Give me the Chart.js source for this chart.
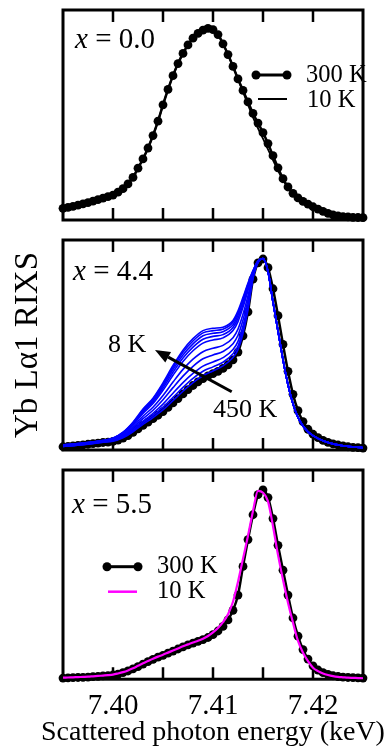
<!DOCTYPE html>
<html>
<head>
<meta charset="utf-8">
<script src="https://cdn.jsdelivr.net/npm/chart.js@4"></script>
<style>
  html, body { margin: 0; padding: 0; background: #fff; overflow: hidden; }
  #fig { position: relative; width: 386px; height: 748px; font-family: "Liberation Serif", serif; color: #000; }
  #fig canvas { position: absolute; left: 0; }
  .note { position: absolute; white-space: nowrap; line-height: 1; }
  .xtitle { position: absolute; left: 13px; width: 400px; text-align: center; white-space: nowrap; line-height: 1; font-size: 28px; }
</style>
</head>
<body>
<div id="fig">
  <canvas id="c1" width="386" height="230" style="top:0px"></canvas>
  <canvas id="c2" width="386" height="230" style="top:230px"></canvas>
  <canvas id="c3" width="386" height="290" style="top:460px"></canvas>

  <div class="note" style="left:75px; top:24px; font-size:29px"><i>x</i> = 0.0</div>
  <div class="note" style="left:306px; top:62px; font-size:24.5px">300 K</div>
  <div class="note" style="left:307px; top:87px; font-size:24.5px">10 K</div>

  <div class="note" style="left:73px; top:256px; font-size:29px"><i>x</i> = 4.4</div>
  <div class="note" style="left:108px; top:331px; font-size:26px">8 K</div>
  <div class="note" style="left:213px; top:396px; font-size:26px">450 K</div>

  <div class="note" style="left:72px; top:489px; font-size:29px"><i>x</i> = 5.5</div>
  <div class="note" style="left:157px; top:553px; font-size:24.5px">300 K</div>
  <div class="note" style="left:157px; top:578px; font-size:24.5px">10 K</div>

  <div class="xtitle" style="top:717px">Scattered photon energy (keV)</div>
</div>
<script>
// scattered photon energy grid (keV)
const energy = [
  7.3950, 7.3955, 7.3960, 7.3965, 7.3970, 7.3975, 7.3980, 7.3985, 7.3990, 7.3995,
  7.4000, 7.4005, 7.4010, 7.4015, 7.4020, 7.4025, 7.4030, 7.4035, 7.4040, 7.4045,
  7.4050, 7.4055, 7.4060, 7.4065, 7.4070, 7.4075, 7.4080, 7.4085, 7.4090, 7.4095,
  7.4100, 7.4105, 7.4110, 7.4115, 7.4120, 7.4125, 7.4130, 7.4135, 7.4140, 7.4145,
  7.4150, 7.4155, 7.4160, 7.4165, 7.4170, 7.4175, 7.4180, 7.4185, 7.4190, 7.4195,
  7.4200, 7.4205, 7.4210, 7.4215, 7.4220, 7.4225, 7.4230, 7.4235, 7.4240, 7.4245,
  7.4250
];
const tickValues = [7.40, 7.41, 7.42];
const tickMarks = [7.400, 7.405, 7.410, 7.415, 7.420];

// x = 0.0
const x00_300K = [
  0.061, 0.066, 0.071, 0.077, 0.084, 0.091, 0.098, 0.106, 0.114, 0.122,
  0.130, 0.145, 0.163, 0.188, 0.222, 0.270, 0.318, 0.375, 0.440, 0.515,
  0.600, 0.680, 0.752, 0.815, 0.868, 0.912, 0.947, 0.972, 0.989, 0.998,
  0.992, 0.966, 0.918, 0.862, 0.800, 0.735, 0.675, 0.615, 0.555, 0.505,
  0.455, 0.398, 0.335, 0.272, 0.215, 0.172, 0.139, 0.115, 0.097, 0.083,
  0.069, 0.057, 0.045, 0.035, 0.027, 0.021, 0.018, 0.016, 0.014, 0.013,
  0.012
];
const x00_10K = [
  0.061, 0.066, 0.071, 0.077, 0.084, 0.091, 0.098, 0.106, 0.114, 0.122,
  0.130, 0.145, 0.163, 0.188, 0.222, 0.270, 0.318, 0.375, 0.440, 0.515,
  0.600, 0.680, 0.752, 0.815, 0.868, 0.912, 0.947, 0.972, 0.989, 0.998,
  0.992, 0.966, 0.918, 0.862, 0.800, 0.735, 0.668, 0.600, 0.535, 0.478,
  0.424, 0.368, 0.312, 0.258, 0.210, 0.168, 0.137, 0.114, 0.096, 0.082,
  0.069, 0.057, 0.045, 0.035, 0.027, 0.021, 0.018, 0.016, 0.014, 0.013,
  0.012
];

// x = 4.4
const x44_450K = [
  0.017, 0.019, 0.021, 0.024, 0.027, 0.030, 0.033, 0.036, 0.039, 0.041,
  0.045, 0.052, 0.062, 0.075, 0.092, 0.110, 0.128, 0.145, 0.163, 0.181,
  0.200, 0.222, 0.245, 0.268, 0.292, 0.315, 0.336, 0.355, 0.372, 0.386,
  0.398, 0.410, 0.425, 0.444, 0.470, 0.510, 0.595, 0.720, 0.890, 0.975,
  0.995, 0.950, 0.840, 0.700, 0.550, 0.410, 0.290, 0.205, 0.148, 0.108,
  0.082, 0.064, 0.050, 0.040, 0.032, 0.026, 0.021, 0.017, 0.014, 0.012,
  0.010
];
const blueEnergy = [
  7.395, 7.397, 7.399, 7.400, 7.401, 7.402, 7.403, 7.404, 7.405, 7.406,
  7.407, 7.408, 7.409, 7.410, 7.411, 7.412, 7.4125, 7.413, 7.4135, 7.414,
  7.4145, 7.415, 7.4155, 7.416, 7.4165, 7.417, 7.4175, 7.418, 7.4185, 7.419,
  7.4195, 7.420, 7.421, 7.422, 7.423, 7.425
];
const x44_T1 = [.026, .036, .050, .062, .093, .145, .213, .270, .350, .440, .520, .580, .622, .634, .640, .675, .725, .795, .870, .935, .985, .997,
  .930, .770, .620, .470, .340, .240, .170, .125, .095, .075, .048, .032, .022, .012];
const x44_T2 = [.026, .036, .049, .061, .091, .142, .209, .265, .343, .430, .509, .568, .610, .622, .629, .665, .714, .785, .863, .933, .985, .997,
  .930, .770, .620, .470, .340, .240, .170, .125, .095, .075, .048, .032, .022, .012];
const x44_T3 = [.025, .035, .049, .060, .090, .139, .204, .258, .334, .419, .495, .553, .595, .608, .616, .652, .701, .773, .854, .930, .984, .997,
  .930, .770, .620, .470, .340, .240, .170, .125, .095, .075, .048, .032, .022, .012];
const x44_T4 = [.024, .034, .048, .059, .087, .135, .198, .251, .323, .405, .479, .536, .577, .592, .601, .638, .686, .759, .843, .927, .983, .997,
  .930, .770, .620, .470, .340, .240, .170, .125, .095, .075, .048, .032, .022, .012];
const x44_T5 = [.024, .034, .047, .058, .085, .131, .191, .242, .311, .389, .461, .517, .557, .573, .584, .622, .669, .743, .831, .923, .982, .997,
  .930, .770, .620, .470, .340, .240, .170, .125, .095, .075, .048, .032, .022, .012];
const x44_T6 = [.022, .032, .045, .055, .079, .122, .176, .223, .284, .354, .420, .473, .512, .530, .545, .585, .630, .707, .804, .915, .981, .997,
  .930, .770, .620, .470, .340, .240, .170, .125, .095, .075, .048, .032, .022, .012];
const x44_T7 = [.021, .031, .044, .052, .075, .114, .163, .207, .262, .325, .385, .436, .475, .495, .513, .554, .598, .677, .782, .908, .979, .997,
  .930, .770, .620, .470, .340, .240, .170, .125, .095, .075, .048, .032, .022, .012];
const x44_T8 = [.019, .029, .042, .049, .070, .106, .150, .191, .239, .296, .351, .399, .437, .459, .481, .523, .566, .647, .759, .902, .978, .997,
  .930, .770, .620, .470, .340, .240, .170, .125, .095, .075, .048, .032, .022, .012];
const x44_T9 = [.018, .028, .041, .048, .067, .100, .141, .179, .223, .274, .326, .373, .410, .433, .457, .501, .542, .625, .743, .897, .977, .997,
  .930, .770, .620, .470, .340, .240, .170, .125, .095, .075, .048, .032, .022, .012];
const x44_T10 = [.018, .028, .040, .046, .064, .095, .133, .169, .209, .257, .306, .351, .387, .412, .438, .482, .523, .607, .729, .893, .976, .997,
  .930, .770, .620, .470, .340, .240, .170, .125, .095, .075, .048, .032, .022, .012];

// x = 5.5
const x55_300K = [
  0.006, 0.007, 0.008, 0.009, 0.010, 0.011, 0.013, 0.015, 0.017, 0.019,
  0.022, 0.027, 0.034, 0.043, 0.054, 0.066, 0.079, 0.092, 0.104, 0.115,
  0.125, 0.136, 0.147, 0.158, 0.169, 0.179, 0.189, 0.198, 0.207, 0.218,
  0.233, 0.252, 0.276, 0.310, 0.360, 0.440, 0.590, 0.730, 0.860, 0.965,
  0.990, 0.950, 0.840, 0.700, 0.570, 0.440, 0.320, 0.225, 0.155, 0.105,
  0.070, 0.048, 0.034, 0.025, 0.018, 0.014, 0.011, 0.009, 0.008, 0.007,
  0.006
];
const x55_10K = [
  0.008, 0.009, 0.010, 0.011, 0.012, 0.013, 0.015, 0.017, 0.019, 0.021,
  0.024, 0.030, 0.037, 0.046, 0.057, 0.070, 0.083, 0.095, 0.107, 0.118,
  0.128, 0.139, 0.150, 0.161, 0.172, 0.182, 0.192, 0.201, 0.212, 0.226,
  0.245, 0.268, 0.298, 0.340, 0.405, 0.510, 0.630, 0.750, 0.880, 0.985,
  0.975, 0.930, 0.800, 0.650, 0.520, 0.400, 0.295, 0.200, 0.138, 0.094,
  0.060, 0.042, 0.030, 0.022, 0.016, 0.012, 0.010, 0.008, 0.007, 0.006,
  0.005
];

const FONT = 'Liberation Serif';
const BLUE = '#0000ff';
const MAGENTA = '#ff00ff';
Chart.defaults.font.family = FONT;
Chart.defaults.color = '#000';

const pairs = (xs, ys) => xs.map((x, i) => ({ x, y: ys[i] }));

const lineSet = (xs, ys, color, width) => ({
  data: pairs(xs, ys), borderColor: color, borderWidth: width,
  pointRadius: 0, fill: false, clip: false
});
const dotSet = (xs, ys) => ({
  data: pairs(xs, ys), borderColor: '#000', borderWidth: 2.5,
  pointRadius: 4.4, pointBackgroundColor: '#000', pointBorderWidth: 0,
  fill: false, clip: false
});

// frame with inward ticks on top and bottom
const framePlugin = {
  id: 'frame',
  beforeDatasetsDraw(chart) {
    const { ctx, chartArea: a } = chart;
    const x = chart.scales.x;
    ctx.save();
    ctx.strokeStyle = '#000';
    ctx.lineWidth = 3;
    ctx.strokeRect(a.left, a.top, a.right - a.left, a.bottom - a.top);
    ctx.lineWidth = 2.5;
    ctx.beginPath();
    tickMarks.forEach(v => {
      const px = x.getPixelForValue(v);
      ctx.moveTo(px, a.top); ctx.lineTo(px, a.top + 12);
      ctx.moveTo(px, a.bottom); ctx.lineTo(px, a.bottom - 12);
    });
    ctx.stroke();
    ctx.restore();
  }
};

// legend symbols and arrow
const decoPlugin = {
  id: 'deco',
  afterDatasetsDraw(chart, args, opts) {
    const ctx = chart.ctx;
    (opts.marks || []).forEach(m => {
      ctx.save();
      ctx.strokeStyle = m.color; ctx.fillStyle = m.color; ctx.lineWidth = m.width;
      if (m.type === 'seg') {
        ctx.beginPath(); ctx.moveTo(m.x1, m.y1); ctx.lineTo(m.x2, m.y2); ctx.stroke();
        if (m.dots) {
          [[m.x1, m.y1], [m.x2, m.y2]].forEach(([px, py]) => {
            ctx.beginPath(); ctx.arc(px, py, 4.5, 0, Math.PI * 2); ctx.fill();
          });
        }
      } else if (m.type === 'arrow') {
        const ang = Math.atan2(m.y2 - m.y1, m.x2 - m.x1);
        const hl = 15, hw = 6;
        const bx = m.x2 - hl * Math.cos(ang), by = m.y2 - hl * Math.sin(ang);
        ctx.beginPath(); ctx.moveTo(m.x1, m.y1); ctx.lineTo(bx, by); ctx.stroke();
        ctx.beginPath();
        ctx.moveTo(m.x2, m.y2);
        ctx.lineTo(bx + hw * Math.sin(ang), by - hw * Math.cos(ang));
        ctx.lineTo(bx - hw * Math.sin(ang), by + hw * Math.cos(ang));
        ctx.closePath(); ctx.fill();
      }
      ctx.restore();
    });
  }
};

const hiddenX = { type: 'linear', min: 7.395, max: 7.425, display: false };
const hiddenY = { min: 0, max: 1.094, display: false };

function makeChart(id, datasets, padding, scales, marks) {
  return new Chart(document.getElementById(id), {
    type: 'line',
    data: { datasets },
    options: {
      responsive: false,
      animation: false,
      events: [],
      layout: { autoPadding: false, padding },
      elements: { line: { cubicInterpolationMode: 'monotone' } },
      plugins: { legend: { display: false }, tooltip: { enabled: false }, deco: { marks } },
      scales
    },
    plugins: [framePlugin, decoPlugin]
  });
}

// panel x = 0.0
makeChart('c1',
  [lineSet(energy, x00_10K, '#000', 1.8), dotSet(energy, x00_300K)],
  { left: 63, right: 23, top: 10, bottom: 10 },
  { x: hiddenX, y: hiddenY },
  [
    { type: 'seg', x1: 256, y1: 75, x2: 287, y2: 75, color: '#000', width: 3, dots: true },
    { type: 'seg', x1: 258, y1: 99, x2: 287, y2: 99, color: '#000', width: 2 }
  ]);

// panel x = 4.4
const blueCurves = [x44_T1, x44_T2, x44_T3, x44_T4, x44_T5, x44_T6, x44_T7, x44_T8, x44_T9, x44_T10];
makeChart('c2',
  [...blueCurves.map(c => lineSet(blueEnergy, c, BLUE, 1.6)), dotSet(energy, x44_450K)],
  { left: 8.2, right: 23, top: 10, bottom: 10 },
  {
    x: hiddenX,
    y: {
      min: 0, max: 1.094, display: true,
      grid: { display: false, drawTicks: false },
      border: { display: false },
      ticks: { display: false },
      title: {
        display: true, text: 'Yb L\u03b11 RIXS', color: '#000',
        font: { family: FONT, size: 33, lineHeight: 1.2 },
        padding: { top: 0, bottom: 15.2 }
      }
    }
  },
  [
    { type: 'arrow', x1: 231.7, y1: 161.7, x2: 155, y2: 120, color: '#000', width: 3 }
  ]);

// panel x = 5.5
makeChart('c3',
  [lineSet(energy, x55_10K, MAGENTA, 2.2), dotSet(energy, x55_300K)],
  { left: 63, right: 23, top: 10, bottom: 16 },
  {
    x: {
      type: 'linear', min: 7.395, max: 7.425, display: true,
      grid: { display: false, drawTicks: false },
      border: { display: false },
      afterBuildTicks: s => { s.ticks = tickValues.map(v => ({ value: v })); },
      ticks: {
        color: '#000', padding: 10, maxRotation: 0, autoSkip: false,
        font: { family: FONT, size: 29, lineHeight: 1.2 },
        callback: v => v.toFixed(2)
      }
    },
    y: hiddenY
  },
  [
    { type: 'seg', x1: 107, y1: 106.7, x2: 138, y2: 106.7, color: '#000', width: 3, dots: true },
    { type: 'seg', x1: 108, y1: 131.7, x2: 137, y2: 131.7, color: MAGENTA, width: 2.5 }
  ]);
</script>
</body>
</html>
